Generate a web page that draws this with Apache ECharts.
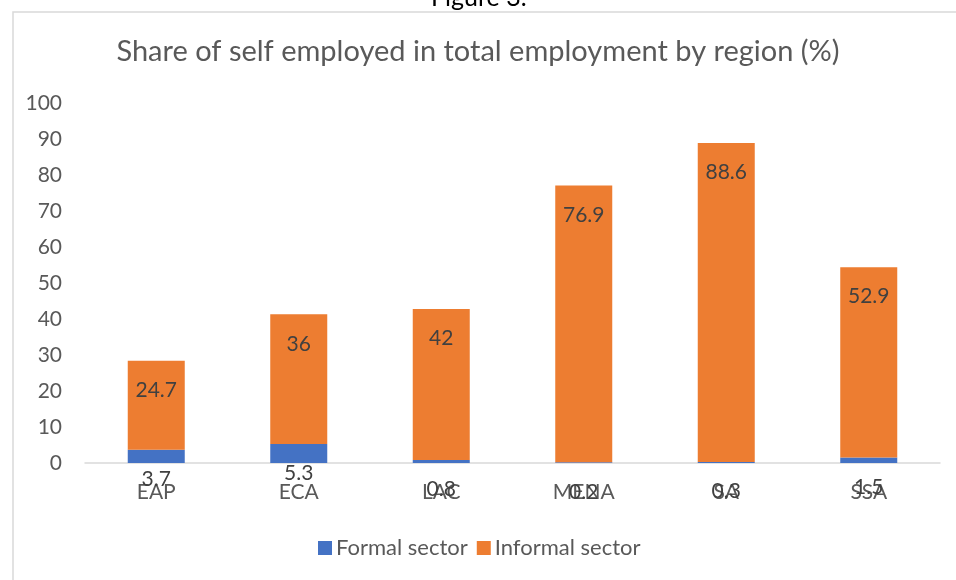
<!DOCTYPE html>
<html>
<head>
<meta charset="utf-8">
<script src="https://cdn.jsdelivr.net/npm/echarts@6/dist/echarts.min.js"></script>
<style>html,body{margin:0;padding:0;background:#fff;}#c{width:956px;height:580px;}</style>
</head>
<body>
<div id="c"></div>
<script>
const categories = ['EAP', 'ECA', 'LAC', 'MENA', 'SA', 'SSA'];
const formal = [3.7, 5.3, 0.8, 0.2, 0.3, 1.5];
const informal = [24.7, 36, 42, 76.9, 88.6, 52.9];
const yTicks = { min: 0, max: 100, interval: 10 };

const FONT = 'Lato';
const chart = echarts.init(document.getElementById('c'));
const labelCfg = {
  show: true,
  position: 'insideTop',
  distance: 5,
  offset: [0, 14],
  fontFamily: FONT,
  fontSize: 21,
  color: '#404040'
};
chart.setOption({
  animation: false,
  backgroundColor: '#fff',
  textStyle: { fontFamily: FONT },
  graphic: [
    { type: 'rect', shape: { x: 13, y: 12, width: 980, height: 620 },
      style: { fill: 'none', stroke: '#d9d9d9', lineWidth: 1.5 }, silent: true },
    { type: 'text', left: 431, top: -15,
      style: { text: 'Figure 3.', fontFamily: FONT, fontSize: 25, fill: '#000' } }
  ],
  title: {
    text: 'Share of self employed in total employment by region (%)',
    left: 'center', top: 37, padding: 0,
    textStyle: { fontFamily: FONT, fontSize: 29, fontWeight: 'normal', color: '#595959' }
  },
  legend: {
    left: 318, top: 537, padding: 0,
    itemWidth: 14, itemHeight: 14, itemGap: 9,
    icon: 'rect',
    textStyle: { fontFamily: FONT, fontSize: 22, color: '#595959', padding: [0, 0, 0, -1] },
    data: ['Formal sector', 'Informal sector']
  },
  grid: { left: 85, right: 16, top: 103, bottom: 117 },
  xAxis: {
    type: 'category', data: categories,
    axisLine: { lineStyle: { color: '#d9d9d9', width: 1.5 } },
    axisTick: { show: false },
    axisLabel: { fontFamily: FONT, fontSize: 21, color: '#595959', margin: 19 }
  },
  yAxis: {
    type: 'value', min: yTicks.min, max: yTicks.max, interval: yTicks.interval,
    axisLine: { show: false }, axisTick: { show: false },
    splitLine: { show: false },
    axisLabel: { fontFamily: FONT, fontSize: 21, color: '#595959', margin: 23 }
  },
  series: [
    { name: 'Formal sector', type: 'bar', stack: 'total', data: formal, barWidth: 57,
      itemStyle: { color: '#4472C4' }, label: labelCfg },
    { name: 'Informal sector', type: 'bar', stack: 'total', data: informal, barWidth: 57,
      itemStyle: { color: '#ED7D31' }, label: labelCfg }
  ]
});
</script>
</body>
</html>
